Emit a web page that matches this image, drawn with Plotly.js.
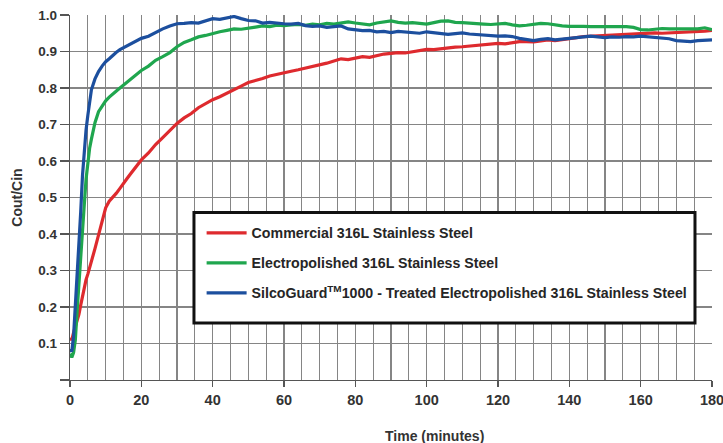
<!DOCTYPE html>
<html>
<head>
<meta charset="utf-8">
<script src="https://cdn.plot.ly/plotly-3.0.1.min.js"></script>
<style>html,body{margin:0;padding:0;background:#fff;}#chart{width:723px;height:443px;}</style>
</head>
<body>
<div id="chart"></div>
<script>
// Time in minutes
const time = [0,0.5,1,1.5,2,2.5,3,3.5,4,4.5,5,5.5,
  6,7,8,9,10,11,12,13,14,15,16,17,18,19,20,
  22,24,26,28,30,32,34,36,38,40,
  42,44,46,48,50,52,54,56,58,60,
  62,64,66,68,70,72,74,76,78,80,
  82,84,86,88,90,92,94,96,98,100,
  102,104,106,108,110,112,114,116,118,120,
  122,124,126,128,130,132,134,136,138,140,
  142,144,146,148,150,152,154,156,158,160,
  162,164,166,168,170,172,174,176,178,180];

// Commercial 316L Stainless Steel
const commercial = [0.115,0.11,0.13,0.145,0.16,0.18,0.205,0.23,0.255,0.275,0.29,0.305,
  0.325,0.36,0.4,0.435,0.472,0.49,0.5,0.512,0.525,0.54,0.552,0.565,0.578,0.59,0.603,
  0.622,0.645,0.664,0.683,0.703,0.718,0.73,0.746,0.757,0.768,
  0.776,0.785,0.795,0.805,0.815,0.82,0.826,0.833,0.838,0.842,
  0.846,0.85,0.854,0.858,0.862,0.868,0.874,0.88,0.878,0.883,
  0.886,0.884,0.889,0.893,0.895,0.897,0.896,0.9,0.904,0.906,
  0.905,0.908,0.91,0.912,0.913,0.915,0.917,0.919,0.92,0.922,
  0.921,0.925,0.927,0.927,0.926,0.929,0.932,0.93,0.932,0.934,
  0.938,0.941,0.942,0.943,0.944,0.945,0.947,0.948,0.948,0.95,
  0.949,0.951,0.95,0.951,0.95,0.953,0.954,0.953,0.956,0.958];

// Electropolished 316L Stainless Steel
const electropolished = [0.072,0.062,0.075,0.11,0.19,0.27,0.34,0.41,0.48,0.55,0.6,0.635,
  0.66,0.705,0.735,0.752,0.765,0.775,0.785,0.792,0.8,0.808,0.818,0.825,0.832,0.84,0.848,
  0.86,0.876,0.886,0.897,0.913,0.925,0.932,0.94,0.944,0.95,
  0.954,0.958,0.962,0.961,0.963,0.967,0.97,0.968,0.972,0.971,
  0.973,0.974,0.972,0.975,0.973,0.977,0.975,0.979,0.981,0.978,
  0.976,0.973,0.978,0.982,0.984,0.98,0.978,0.979,0.976,0.975,
  0.979,0.983,0.984,0.98,0.979,0.977,0.975,0.975,0.974,0.976,
  0.977,0.973,0.97,0.972,0.975,0.977,0.976,0.972,0.97,0.969,
  0.97,0.969,0.968,0.968,0.969,0.968,0.967,0.968,0.966,0.96,
  0.959,0.961,0.963,0.962,0.962,0.963,0.964,0.962,0.965,0.96];

// SilcoGuard 1000 - Treated Electropolished 316L Stainless Steel
const silcoguard = [0.085,0.078,0.12,0.2,0.29,0.38,0.46,0.56,0.63,0.685,0.725,0.76,
  0.795,0.825,0.845,0.86,0.872,0.88,0.89,0.898,0.905,0.91,0.917,0.921,0.925,0.93,0.936,
  0.942,0.953,0.962,0.97,0.976,0.977,0.979,0.978,0.985,0.99,
  0.988,0.993,0.996,0.99,0.985,0.984,0.978,0.98,0.977,0.976,
  0.975,0.977,0.971,0.969,0.97,0.966,0.968,0.97,0.962,0.959,
  0.957,0.958,0.954,0.955,0.952,0.955,0.953,0.951,0.95,0.954,
  0.952,0.95,0.947,0.949,0.951,0.948,0.946,0.945,0.944,0.942,
  0.943,0.941,0.936,0.932,0.93,0.933,0.935,0.932,0.934,0.937,
  0.94,0.941,0.942,0.94,0.938,0.94,0.939,0.941,0.94,0.942,
  0.94,0.937,0.936,0.935,0.93,0.928,0.927,0.93,0.931,0.932];

const seriesNames = ['Commercial 316L Stainless Steel',
  'Electropolished 316L Stainless Steel',
  'SilcoGuard<sup>TM</sup>1000 - Treated Electropolished 316L Stainless Steel'];
const seriesColors = ['#de2a2e', '#1fa64e', '#1c4f9e'];
const seriesValues = [commercial, electropolished, silcoguard];

const yTickVals = [0.1,0.2,0.3,0.4,0.5,0.6,0.7,0.8,0.9,1.0];
const yTickText = ['0.1','0.2','0.3','0.4','0.5','0.6','0.7','0.8','0.9','1.0'];
const xTickVals = [0,20,40,60,80,100,120,140,160,180];

const FONT = 'Liberation Sans, Arial, Helvetica, sans-serif';
const GRID = '#858585';

const traces = seriesValues.map((vals, i) => ({
  x: time, y: vals, type: 'scatter', mode: 'lines',
  name: seriesNames[i], legendgroup: 'g' + i,
  line: {color: seriesColors[i], width: 3.2}
}));

const layout = {
  width: 723, height: 443, autosize: false,
  margin: {l: 70, r: 11, t: 15, b: 63},
  paper_bgcolor: '#fff', plot_bgcolor: '#fff',
  font: {family: FONT, color: '#333', size: 13},
  showlegend: true,
  legend: {
    x: 0.205, y: 0.446, xanchor: 'left', yanchor: 'top',
    bgcolor: 'rgba(0,0,0,0)', borderwidth: 0,
    traceorder: 'grouped', tracegroupgap: 8.5, itemwidth: 40,
    font: {family: FONT, size: 14.2, color: '#262626', weight: 'bold'}
  },
  xaxis: {
    range: [0, 180], tickvals: xTickVals, ticks: 'outside', ticklen: 6,
    tickcolor: '#555', tickwidth: 1.2, ticklabeloverflow: 'allow',
    showgrid: true, gridcolor: GRID, gridwidth: 1.3,
    minor: {dtick: 5, showgrid: true, gridcolor: GRID, gridwidth: 1.3, ticks: ''},
    showline: true, linecolor: '#555', linewidth: 1.3, mirror: false,
    zeroline: false, fixedrange: true,
    tickfont: {family: FONT, size: 14.5, color: '#333', weight: 'bold'}
  },
  yaxis: {
    range: [0, 1], tickvals: yTickVals, ticktext: yTickText,
    ticks: 'outside', ticklen: 9, tickcolor: '#555', tickwidth: 1.2,
    minor: {tick0: 0, dtick: 0.1, ticks: 'outside', ticklen: 9, tickcolor: '#555', tickwidth: 1.2, showgrid: false},
    showgrid: true, gridcolor: GRID, gridwidth: 1.3,
    showline: true, linecolor: '#555', linewidth: 1.3,
    zeroline: false, fixedrange: true,
    tickfont: {family: FONT, size: 13.5, color: '#333', weight: 'bold'},
    title: {text: 'Cout/Cin', font: {family: FONT, size: 14, color: '#333', weight: 'bold'}, standoff: 12}
  },
  shapes: [{
    type: 'rect', xref: 'paper', yref: 'paper', layer: 'above',
    x0: 0.1931, x1: 0.9735, y0: 0.1562, y1: 0.4586,
    line: {color: '#111', width: 3}, fillcolor: '#fff'
  }],
  annotations: [{
    text: 'Time (minutes)', xref: 'paper', yref: 'paper',
    x: 0.5685, y: -0.153, xanchor: 'center', yanchor: 'middle', showarrow: false,
    font: {family: FONT, size: 14, color: '#333', weight: 'bold'}
  }]
};

Plotly.newPlot('chart', traces, layout, {displayModeBar: false, staticPlot: true});
</script>
</body>
</html>
